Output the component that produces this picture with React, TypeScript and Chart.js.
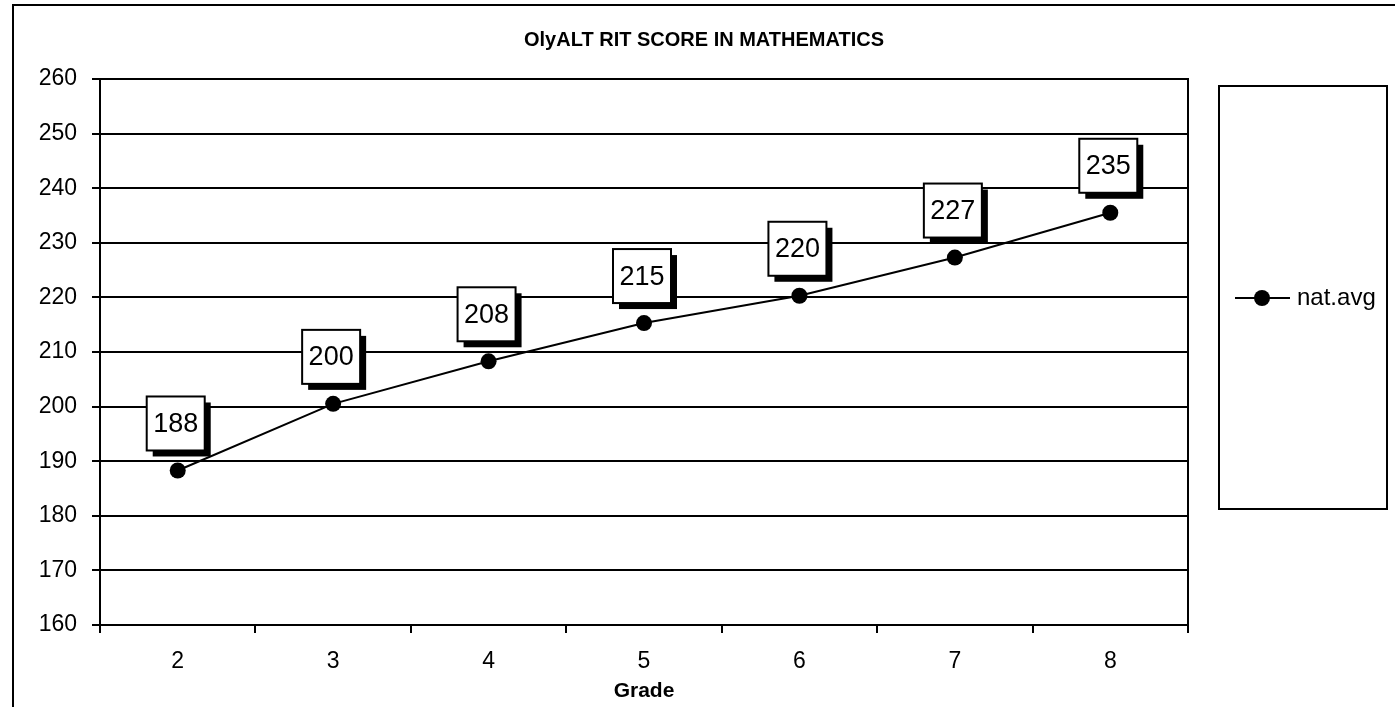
import React, { useEffect, useRef } from "react";
import { Chart, registerables } from "chart.js";

Chart.register(...registerables);

const grades = ["2", "3", "4", "5", "6", "7", "8"];
const natAvg = [188.3, 200.5, 208.3, 215.3, 220.3, 227.3, 235.5];
const natAvgLabels = ["188", "200", "208", "215", "220", "227", "235"];
const yTicks = [160, 170, 180, 190, 200, 210, 220, 230, 240, 250, 260];

const chartTitle = "OlyALT RIT SCORE IN MATHEMATICS";
const xTitle = "Grade";
const seriesName = "nat.avg";

const FONT = "'Liberation Sans', Arial, sans-serif";

const decorPlugin = {
  id: "decor",
  beforeDraw(chart: any) {
    const { ctx, width, height } = chart;
    ctx.save();
    ctx.fillStyle = "#fff";
    ctx.fillRect(0, 0, width, height);
    ctx.strokeStyle = "#000";
    ctx.lineWidth = 2;
    // outer frame (left and top visible)
    ctx.beginPath();
    ctx.moveTo(13, height + 2);
    ctx.lineTo(13, 5);
    ctx.lineTo(width + 2, 5);
    ctx.stroke();
    // title
    ctx.fillStyle = "#000";
    ctx.font = `bold 20px ${FONT}`;
    ctx.textAlign = "center";
    ctx.textBaseline = "middle";
    ctx.fillText(chartTitle, 704, 40);
    ctx.restore();
  },
  afterDraw(chart: any) {
    const { ctx, chartArea } = chart;
    ctx.save();
    ctx.strokeStyle = "#000";
    ctx.lineWidth = 2;
    // plot area border
    ctx.strokeRect(chartArea.left, chartArea.top, chartArea.right - chartArea.left, chartArea.bottom - chartArea.top);

    // data labels with shadow
    const meta = chart.getDatasetMeta(0);
    const w = 58;
    const h = 54;
    meta.data.forEach((pt: any, i: number) => {
      const cx = pt.x - 2;
      const cy = pt.y - 47;
      const x0 = cx - w / 2;
      const y0 = cy - h / 2;
      ctx.fillStyle = "#000";
      ctx.fillRect(x0 + 6, y0 + 6, w, h);
      ctx.fillStyle = "#fff";
      ctx.fillRect(x0, y0, w, h);
      ctx.lineWidth = 2;
      ctx.strokeStyle = "#000";
      ctx.strokeRect(x0, y0, w, h);
      ctx.fillStyle = "#000";
      ctx.font = `27px ${FONT}`;
      ctx.textAlign = "center";
      ctx.textBaseline = "middle";
      ctx.fillText(natAvgLabels[i], cx, cy + 1);
    });

    // legend box
    ctx.lineWidth = 2;
    ctx.strokeStyle = "#000";
    ctx.strokeRect(1219, 86, 168, 423);
    const ly = 298;
    ctx.beginPath();
    ctx.moveTo(1235, ly);
    ctx.lineTo(1290, ly);
    ctx.stroke();
    ctx.beginPath();
    ctx.arc(1262, ly, 8, 0, Math.PI * 2);
    ctx.fillStyle = "#000";
    ctx.fill();
    ctx.font = `24px ${FONT}`;
    ctx.textAlign = "left";
    ctx.textBaseline = "middle";
    ctx.fillText(seriesName, 1297, ly);
    ctx.restore();
  },
};

export default function App() {
  const ref = useRef<HTMLCanvasElement | null>(null);
  useEffect(() => {
    if (!ref.current) return;
    const chart = new Chart(ref.current, {
      type: "line",
      data: {
        labels: grades,
        datasets: [
          {
            label: seriesName,
            data: natAvg,
            borderColor: "#000",
            backgroundColor: "#000",
            borderWidth: 2,
            pointRadius: 8,
            pointBackgroundColor: "#000",
            pointBorderColor: "#000",
            pointBorderWidth: 0,
            tension: 0,
          },
        ],
      },
      options: {
        responsive: false,
        animation: false,
        layout: { padding: { left: 0, top: 79, right: 207, bottom: 0 } },
        plugins: {
          legend: { display: false },
          title: { display: false },
          tooltip: { enabled: false },
        },
        scales: {
          x: {
            offset: true,
            grid: {
              offset: true,
              drawOnChartArea: false,
              drawTicks: true,
              tickLength: 8,
              color: "#000",
              lineWidth: 2,
            },
            border: { display: true, color: "#000", width: 2 },
            ticks: { color: "#000", font: { family: FONT, size: 23 }, padding: 15 },
            title: {
              display: true,
              text: xTitle,
              color: "#000",
              font: { family: FONT, size: 21, weight: "bold" },
              padding: { top: 0, bottom: 3 },
            },
            afterFit: (s: any) => {
              s.height = 82;
            },
          },
          y: {
            min: yTicks[0],
            max: yTicks[yTicks.length - 1],
            afterBuildTicks: (s: any) => {
              s.ticks = yTicks.map((v) => ({ value: v }));
            },
            grid: {
              drawTicks: true,
              tickLength: 8,
              color: "#000",
              lineWidth: 2,
            },
            border: { display: true, color: "#000", width: 2 },
            ticks: { color: "#000", font: { family: FONT, size: 23 }, padding: 15 },
            afterFit: (s: any) => {
              s.width = 100;
            },
          },
        },
      },
      plugins: [decorPlugin],
    });
    return () => chart.destroy();
  }, []);
  return (
    <canvas
      ref={ref}
      width={1395}
      height={707}
      style={{ position: "absolute", left: 0, top: 0, width: 1395, height: 707, display: "block" }}
    />
  );
}
